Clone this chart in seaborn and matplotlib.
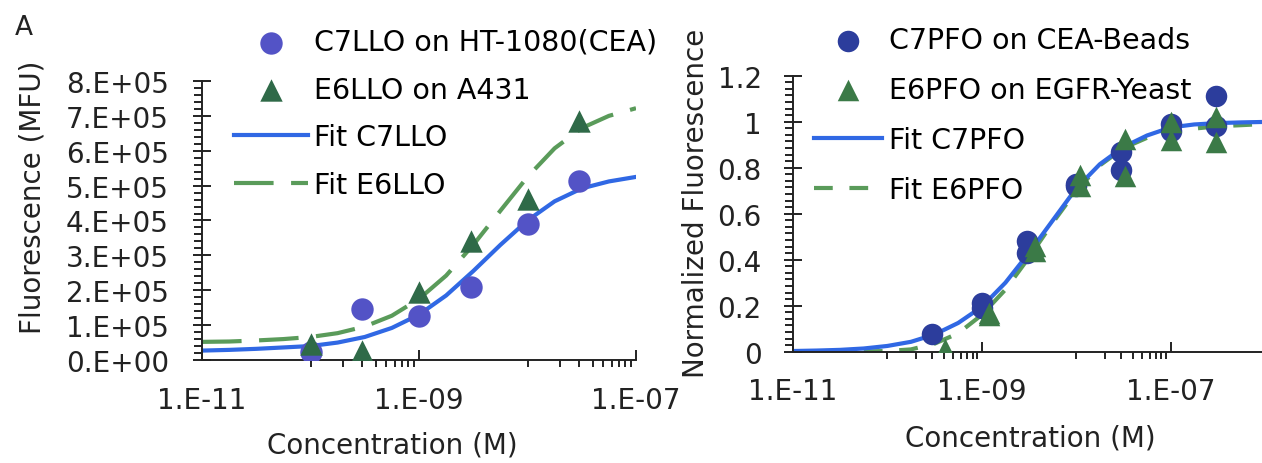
import numpy as np
import pandas as pd
import matplotlib
matplotlib.use("Agg")
import matplotlib.pyplot as plt
from matplotlib.ticker import FixedLocator, FixedFormatter, MultipleLocator, AutoMinorLocator, NullFormatter
import seaborn as sns

plt.rcParams['font.family'] = ['DejaVu Sans']

# ---------------- data: left panel (LLO) ----------------
llo_conc = [1e-10, 3e-10, 1e-9, 3e-9, 1e-8, 3e-8]
c7llo_mfu = [0.22e5, 1.46e5, 1.27e5, 2.08e5, 3.90e5, 5.14e5]
e6llo_mfu = [0.46e5, 0.27e5, 1.94e5, 3.42e5, 4.61e5, 6.86e5]

llo_fit_logx = [-11, -10.75, -10.5, -10.25, -10, -9.75, -9.5, -9.25, -9, -8.75,
                -8.5, -8.25, -8, -7.75, -7.5, -7.25, -7]
fit_c7llo = [0.27e5, 0.29e5, 0.32e5, 0.36e5, 0.40e5, 0.50e5, 0.66e5, 0.92e5, 1.30e5, 1.85e5,
             2.55e5, 3.30e5, 4.00e5, 4.55e5, 4.92e5, 5.12e5, 5.25e5]
fit_e6llo = [0.52e5, 0.53e5, 0.56e5, 0.60e5, 0.66e5, 0.77e5, 0.96e5, 1.27e5, 1.75e5, 2.42e5,
             3.30e5, 4.28e5, 5.25e5, 6.07e5, 6.65e5, 7.00e5, 7.22e5]

# ---------------- data: right panel (PFO) ----------------
c7pfo_conc = [3e-10, 1e-9, 1e-9, 3e-9, 3e-9, 1e-8, 1e-8, 3e-8, 3e-8, 1e-7, 1e-7, 3e-7, 3e-7]
c7pfo_norm = [0.077, 0.21, 0.19, 0.48, 0.43, 0.72, 0.73, 0.87, 0.79, 0.99, 0.96, 1.11, 0.98]
e6pfo_conc = [4.1e-10, 1.2e-9, 1.2e-9, 3.7e-9, 3.7e-9, 1.1e-8, 1.1e-8, 3.3e-8, 3.3e-8, 1e-7, 1e-7, 3e-7, 3e-7]
e6pfo_norm = [0.01, 0.16, 0.17, 0.44, 0.46, 0.77, 0.72, 0.925, 0.765, 1.0, 0.92, 1.02, 0.91]

pfo_fit_logx = [-11, -10.75, -10.5, -10.25, -10, -9.75, -9.5, -9.25, -9, -8.75, -8.5,
                -8.25, -8, -7.75, -7.5, -7.25, -7, -6.75, -6.5, -6.25, -6]
fit_c7pfo = [0.003, 0.005, 0.008, 0.014, 0.025, 0.043, 0.075, 0.125, 0.195, 0.30, 0.43,
             0.57, 0.71, 0.815, 0.89, 0.94, 0.975, 0.988, 0.994, 0.997, 0.999]
fit_e6pfo = [0.0, 0.0, 0.0, 0.001, 0.003, 0.01, 0.035, 0.08, 0.16, 0.27, 0.41,
             0.56, 0.70, 0.81, 0.885, 0.93, 0.955, 0.97, 0.98, 0.985, 0.99]

# tick labels
llo_xticks = [1e-11, 1e-9, 1e-7]
llo_xticklabels = ["1.E-11", "1.E-09", "1.E-07"]
llo_yticks = [0, 1e5, 2e5, 3e5, 4e5, 5e5, 6e5, 7e5, 8e5]
llo_yticklabels = ["0.E+00", "1.E+05", "2.E+05", "3.E+05", "4.E+05", "5.E+05", "6.E+05", "7.E+05", "8.E+05"]
pfo_yticks = [0, 0.2, 0.4, 0.6, 0.8, 1.0, 1.2]
pfo_yticklabels = ["0", "0.2", "0.4", "0.6", "0.8", "1", "1.2"]
minor_x = [k * 1e-10 for k in range(1, 10)] + [k * 1e-8 for k in range(1, 10)]

# colours
C_CIRC_L = "#5353c6"
C_TRI_L = "#2f6a48"
C_CIRC_R = "#2c3d9c"
C_TRI_R = "#3b7a47"
C_BLUE = "#3068e4"
C_GREEN = "#5a9b5a"

W, H = 1262, 464
fig = plt.figure(figsize=(W / 100, H / 100), dpi=100)

def px_axes(x0, x1, ytop, ybot):
    return fig.add_axes([x0 / W, 1 - ybot / H, (x1 - x0) / W, (ybot - ytop) / H])

axL = px_axes(202, 636, 82, 361)
axR = px_axes(793, 1265, 76.7, 352.7)

FS = 20

def style_axis(ax, xpad, ypad):
    ax.set_xscale("log")
    for s in ["top", "right"]:
        ax.spines[s].set_visible(False)
    for s in ["left", "bottom"]:
        ax.spines[s].set_linewidth(1.4)
        ax.spines[s].set_color("#222222")
    ax.xaxis.set_major_locator(FixedLocator(llo_xticks))
    ax.xaxis.set_major_formatter(FixedFormatter(llo_xticklabels))
    ax.xaxis.set_minor_locator(FixedLocator(minor_x))
    ax.xaxis.set_minor_formatter(NullFormatter())
    ax.tick_params(axis="x", which="major", direction="in", length=7.5, width=1.4,
                   labelsize=FS, pad=xpad, colors="#222222")
    ax.tick_params(axis="x", which="minor", direction="out", length=5, width=1.4, colors="#222222")
    ax.tick_params(axis="y", which="major", direction="inout", length=13, width=1.4,
                   labelsize=FS, pad=ypad, colors="#222222")
    ax.tick_params(axis="y", which="minor", direction="out", length=5.8, width=1.4, colors="#222222")
    ax.set_facecolor("none")

# ---------------- left panel ----------------
sns.lineplot(x=[10 ** v for v in llo_fit_logx], y=fit_c7llo, ax=axL, color=C_BLUE, lw=3.0,
             estimator=None, errorbar=None, sort=False, label="Fit C7LLO", zorder=2)
sns.lineplot(x=[10 ** v for v in llo_fit_logx], y=fit_e6llo, ax=axL, color=C_GREEN, lw=3.0,
             estimator=None, errorbar=None, sort=False, label="Fit E6LLO", zorder=2,
             linestyle=(0, (9.5, 4.2)))
sns.scatterplot(x=llo_conc, y=c7llo_mfu, ax=axL, marker="o", s=260, color=C_CIRC_L,
                linewidth=0, label="C7LLO on HT-1080(CEA)", zorder=3)
sns.scatterplot(x=llo_conc, y=e6llo_mfu, ax=axL, marker="^", s=260, color=C_TRI_L,
                linewidth=0, label="E6LLO on A431", zorder=4)
style_axis(axL, 18.7, 17.3)
axL.set_xlim(1e-11, 1e-7)
axL.set_ylim(0, 8e5)
axL.yaxis.set_major_locator(FixedLocator(llo_yticks))
axL.yaxis.set_major_formatter(FixedFormatter(llo_yticklabels))
axL.yaxis.set_minor_locator(MultipleLocator(2e4))
axL.set_xlabel("Concentration (M)", fontsize=FS, color="#222222")
axL.set_ylabel("Fluorescence (MFU)", fontsize=FS, color="#222222")
axL.xaxis.set_label_coords(0.438, -0.251)
axL.yaxis.set_label_coords(-0.359, 0.588)

order = ["C7LLO on HT-1080(CEA)", "E6LLO on A431", "Fit C7LLO", "Fit E6LLO"]
h, l = axL.get_legend_handles_labels()
hd = dict(zip(l, h))
axL.legend([hd[k] for k in order], order, loc="upper left",
           bbox_to_anchor=(234 / W, 1 - 29 / H), bbox_transform=fig.transFigure,
           frameon=False, fontsize=20.5, borderpad=0, borderaxespad=0,
           handlelength=2.6, handletextpad=0.22, labelspacing=0.69, scatterpoints=1)

# ---------------- right panel ----------------
sns.lineplot(x=[10 ** v for v in pfo_fit_logx], y=fit_e6pfo, ax=axR, color=C_GREEN, lw=3.0,
             estimator=None, errorbar=None, sort=False, label="Fit E6PFO", zorder=2,
             linestyle=(0, (4.5, 4)))
sns.lineplot(x=[10 ** v for v in pfo_fit_logx], y=fit_c7pfo, ax=axR, color=C_BLUE, lw=3.0,
             estimator=None, errorbar=None, sort=False, label="Fit C7PFO", zorder=2.5)
sns.scatterplot(x=c7pfo_conc, y=c7pfo_norm, ax=axR, marker="o", s=240, color=C_CIRC_R,
                linewidth=0, label="C7PFO on CEA-Beads", zorder=3)
sns.scatterplot(x=e6pfo_conc, y=e6pfo_norm, ax=axR, marker="^", s=240, color=C_TRI_R,
                linewidth=0, label="E6PFO on EGFR-Yeast", zorder=4)
style_axis(axR, 18, 16)
axR.set_xlim(1e-11, 1e-6)
axR.set_ylim(0, 1.2)
axR.yaxis.set_major_locator(FixedLocator(pfo_yticks))
axR.yaxis.set_major_formatter(FixedFormatter(pfo_yticklabels))
axR.yaxis.set_minor_locator(AutoMinorLocator(7))
axR.set_xlabel("Concentration (M)", fontsize=FS, color="#222222")
axR.set_ylabel("Normalized Fluorescence", fontsize=FS, color="#222222")
axR.xaxis.set_label_coords(0.502, -0.26)
axR.yaxis.set_label_coords(-0.176, 0.542)

order = ["C7PFO on CEA-Beads", "E6PFO on EGFR-Yeast", "Fit C7PFO", "Fit E6PFO"]
h, l = axR.get_legend_handles_labels()
hd = dict(zip(l, h))
axR.legend([hd[k] for k in order], order, loc="upper left",
           bbox_to_anchor=(813.6 / W, 1 - 27 / H), bbox_transform=fig.transFigure,
           frameon=False, fontsize=20.5, borderpad=0, borderaxespad=0,
           handlelength=2.4, handletextpad=0.25, labelspacing=0.77, scatterpoints=1)

fig.text(15 / W, 1 - 28 / H, "A", fontsize=19, color="#222222", va="center", ha="left")

fig.savefig("out.png", dpi=100)
